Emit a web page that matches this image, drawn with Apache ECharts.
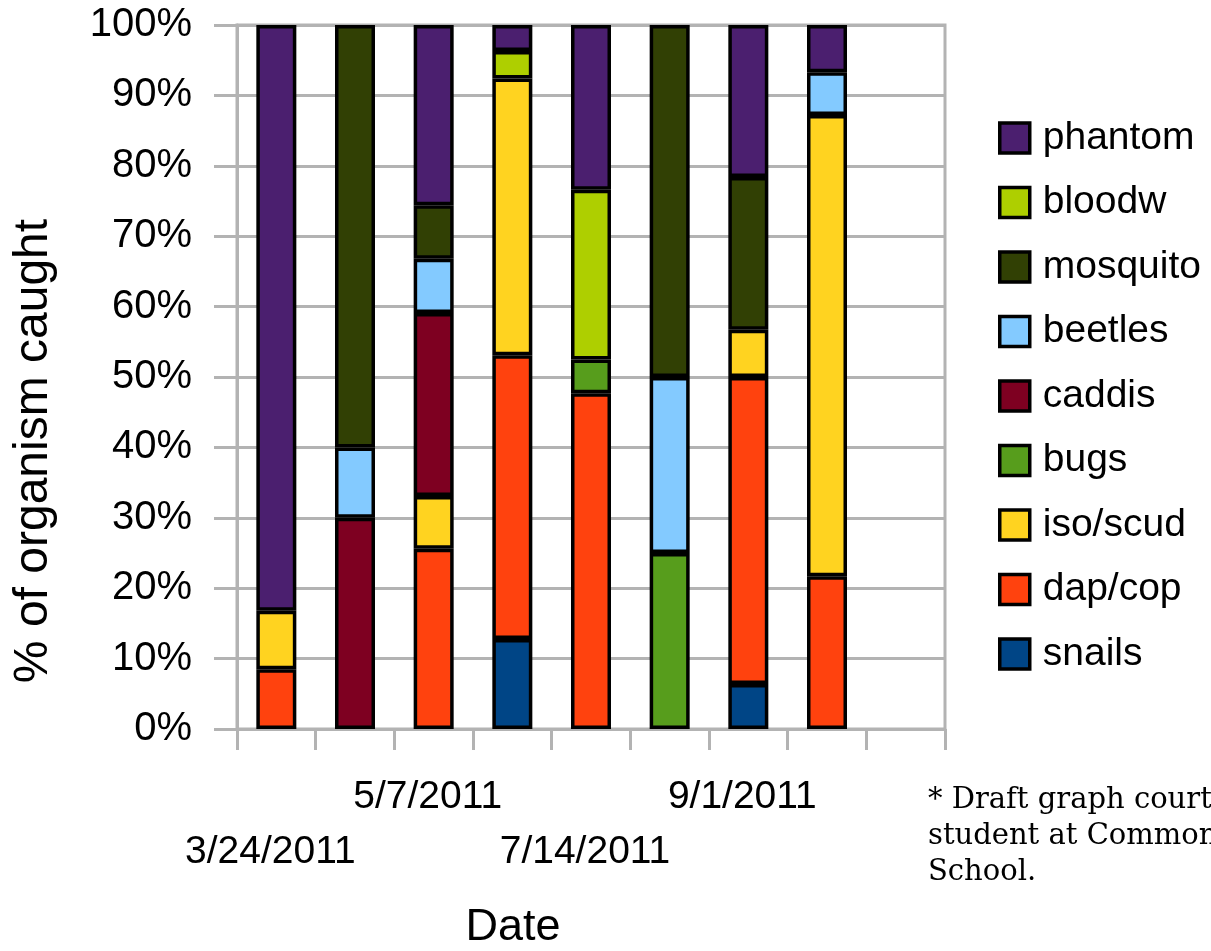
<!DOCTYPE html>
<html>
<head>
<meta charset="utf-8">
<title>% of organism caught</title>
<script src="https://cdn.jsdelivr.net/npm/echarts@6/dist/echarts.min.js"></script>
<style>
  html, body { margin: 0; padding: 0; background: #fff; }
  #chart { width: 1211px; height: 951px; }
</style>
</head>
<body>
<div id="chart"></div>
<script>
  // sampling dates (only every other one is labelled in the original)
  var dates = ['3/24/2011', '', '5/7/2011', '', '7/14/2011', '', '9/1/2011', '', '']

  // percent of organisms caught, per date
  var snails   = [0,    0,  0,    12.8, 0,    0,  6.4,  0,    0]
  var dapCop   = [8.5,  0,  25.6, 40.3, 47.7, 0,  43.6, 21.7, 0]
  var isoScud  = [8.3,  0,  7.5,  39.3, 0,    0,  6.7,  65.5, 0]
  var bugs     = [0,    0,  0,    0,    4.8,  25, 0,    0,    0]
  var caddis   = [0,    30, 26,   0,    0,    0,  0,    0,    0]
  var beetles  = [0,    10, 7.7,  0,    0,    25, 0,    6.1,  0]
  var mosquito = [0,    60, 7.6,  0,    0,    50, 21.7, 0,    0]
  var bloodw   = [0,    0,  0,    3.9,  24.1, 0,  0,    0,    0]
  var phantom  = [83.2, 0,  25.6, 3.7,  23.4, 0,  21.6, 6.7,  0]

  var yTicks = [0, 10, 20, 30, 40, 50, 60, 70, 80, 90, 100]

  var groups = [
    { name: 'snails',   data: snails,   color: '#004586' },
    { name: 'dap/cop',  data: dapCop,   color: '#ff420e' },
    { name: 'iso/scud', data: isoScud,  color: '#ffd320' },
    { name: 'bugs',     data: bugs,     color: '#579d1c' },
    { name: 'caddis',   data: caddis,   color: '#7e0021' },
    { name: 'beetles',  data: beetles,  color: '#83caff' },
    { name: 'mosquito', data: mosquito, color: '#314004' },
    { name: 'bloodw',   data: bloodw,   color: '#aecf00' },
    { name: 'phantom',  data: phantom,  color: '#4b1f6f' }
  ]

  var gridGray = '#b3b3b3'
  var font = 'Liberation Sans, Arial, sans-serif'

  var series = groups.map(function (g) {
    return {
      name: g.name,
      type: 'bar',
      stack: 'total',
      barWidth: 40,
      // empty segments would otherwise show as black lines
      data: g.data.map(function (v) { return v > 0 ? v : '-' }),
      itemStyle: { color: g.color, borderColor: '#000', borderWidth: 3.5 }
    }
  })

  var myChart = echarts.init(document.getElementById('chart'))
  myChart.setOption({
    animation: false,
    grid: {
      left: 237, top: 25, width: 708, height: 704,
      show: true, borderColor: gridGray, borderWidth: 3
    },
    legend: {
      orient: 'vertical',
      left: 993,
      top: 113,
      icon: 'rect',
      itemWidth: 30,
      itemHeight: 30,
      itemGap: 24.5,
      data: groups.map(function (g) { return g.name }).reverse(),
      itemStyle: { borderColor: '#000', borderWidth: 3.5 },
      textStyle: { fontFamily: font, fontSize: 39, lineHeight: 40, color: '#000', padding: [0, 0, 0, 8] }
    },
    xAxis: {
      type: 'category',
      data: dates,
      axisLine: { lineStyle: { color: gridGray, width: 3 } },
      axisTick: { show: true, interval: 0, length: 21, lineStyle: { color: gridGray, width: 3 } },
      axisLabel: {
        interval: 0,
        margin: 41,
        verticalAlign: 'top',
        color: '#000',
        fontFamily: font,
        fontSize: 39,
        lineHeight: 55,
        padding: [0, 12, 0, 0],
        // staggered labels: every other one drops a line
        formatter: function (v, i) {
          if (!v) return ''
          return i % 4 === 0 ? '\n' + v : v
        }
      }
    },
    yAxis: {
      type: 'value',
      min: yTicks[0],
      max: yTicks[yTicks.length - 1],
      interval: 10,
      axisLine: { show: true, lineStyle: { color: gridGray, width: 3 } },
      axisTick: { show: true, length: 23, lineStyle: { color: gridGray, width: 3 } },
      splitLine: { lineStyle: { color: gridGray, width: 3 } },
      axisLabel: {
        margin: 45,
        color: '#000',
        fontFamily: font,
        fontSize: 40,
        formatter: '{value}%'
      }
    },
    graphic: [
      {
        type: 'text',
        x: 34, y: 451,
        rotation: Math.PI / 2,
        style: {
          text: '% of organism caught',
          font: '48px ' + font,
          fill: '#000',
          align: 'center',
          verticalAlign: 'middle'
        }
      },
      {
        type: 'text',
        x: 513, y: 928,
        style: {
          text: 'Date',
          font: '45px ' + font,
          fill: '#000',
          align: 'center',
          verticalAlign: 'middle'
        }
      },
      {
        type: 'text',
        x: 928, y: 782,
        style: {
          text: '* Draft graph courtesy of a\nstudent at Commonwealth\nSchool.',
          font: '29px DejaVu Serif, serif',
          lineHeight: 36,
          fill: '#000'
        }
      }
    ],
    series: series
  })
</script>
</body>
</html>
